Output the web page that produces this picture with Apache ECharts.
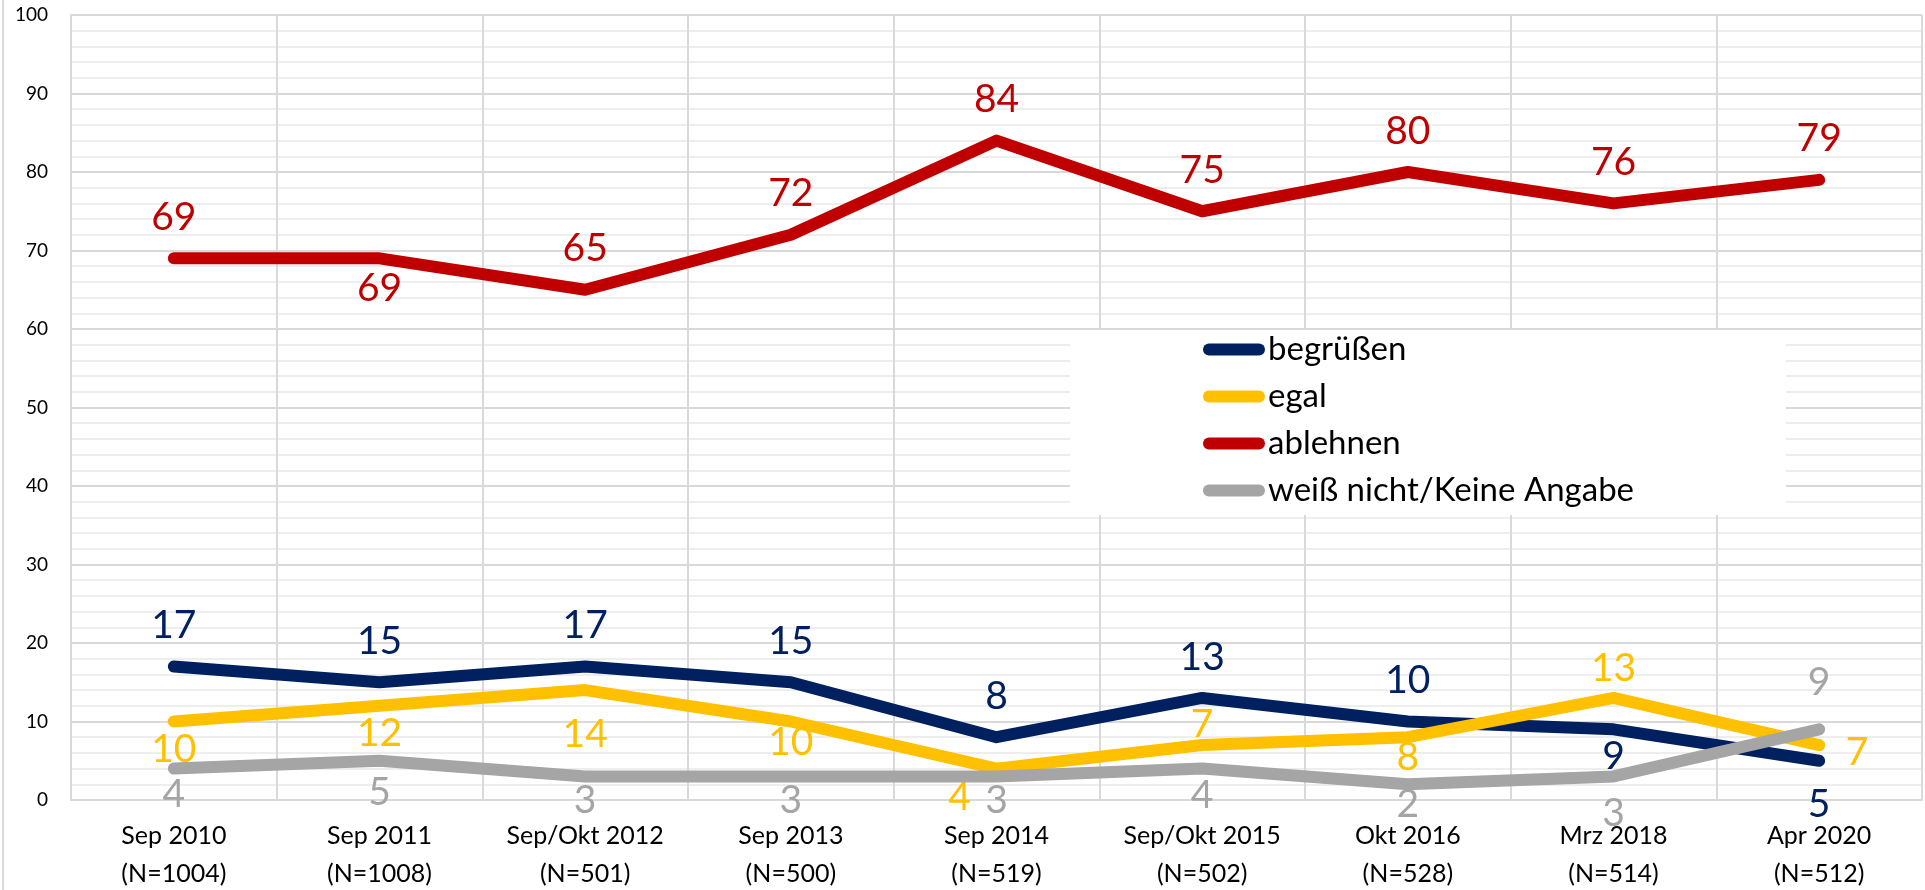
<!DOCTYPE html>
<html>
<head>
<meta charset="utf-8">
<script src="https://cdn.jsdelivr.net/npm/echarts@6/dist/echarts.min.js"></script>
<style>
  html, body { margin: 0; padding: 0; background: #fff; }
  #chart { width: 1925px; height: 890px; }
</style>
</head>
<body>
<div id="chart"></div>
<script>
// Zeitpunkte + Stichprobengröße (Achsenbeschriftung)
const periods = ['Sep 2010', 'Sep 2011', 'Sep/Okt 2012', 'Sep 2013', 'Sep 2014', 'Sep/Okt 2015', 'Okt 2016', 'Mrz 2018', 'Apr 2020']
const sampleSizes = [1004, 1008, 501, 500, 519, 502, 528, 514, 512]

const seriesNames = ['begrüßen', 'egal', 'ablehnen', 'weiß nicht/Keine Angabe']
const begruessen = [17, 15, 17, 15, 8, 13, 10, 9, 5]
const egal = [10, 12, 14, 10, 4, 7, 8, 13, 7]
const ablehnen = [69, 69, 65, 72, 84, 75, 80, 76, 79]
const weissNicht = [4, 5, 3, 3, 3, 4, 2, 3, 9]

const yTicks = [0, 100, 10]  // min, max, interval

const colors = ['#002060', '#FFC000', '#C00000', '#A5A5A5']

// Label-Platzierung je Punkt: [position, distance, dx, dy] (wie im Original verschoben)
const T = ['top', 21, 0, 0]
const labelLayouts = [
    [T, T, T, T, T, T, T, ['bottom', 7, 0, 0], ['bottom', 24, 0, 0]],
    [['bottom', 8, 0, 0], ['bottom', 8, 0, 0], ['bottom', 24, 0, 0], ['bottom', 1, 0, 0],
     ['bottom', 9, -37, 0], ['top', 1, 0, 0], ['bottom', 0, 0, 0], ['top', 10, 0, 0], ['right', 26, 0, 7]],
    [T, ['bottom', 10, 0, 0], T, T, T, T, T, T, T],
    [['bottom', 6, 0, 0], ['bottom', 12, 0, 0], ['bottom', 4, 0, 0], ['bottom', 4, 0, 0], ['bottom', 4, 0, 0],
     ['bottom', 7, 0, 0], ['bottom', 0, 0, 0], ['bottom', 17, 0, 0], ['top', 27, 0, 0]]
]

const FONT = 'Lato, "Open Sans", "DejaVu Sans", sans-serif'
const gridColor = '#d9d9d9'

const chart = echarts.init(document.getElementById('chart'))

const values = [begruessen, egal, ablehnen, weissNicht]

const series = values.map((vals, s) => ({
    name: seriesNames[s],
    type: 'line',
    symbol: 'circle',
    symbolSize: 1,
    itemStyle: { color: colors[s] },
    lineStyle: { color: colors[s], width: 12, cap: 'round', join: 'round' },
    emphasis: { disabled: true },
    z: 2 + s,
    data: vals.map((v, i) => {
        const [pos, dist, dx, dy] = labelLayouts[s][i]
        return {
            value: v,
            label: { show: true, position: pos, distance: dist, offset: [dx, dy] }
        }
    }),
    label: {
        show: true,
        color: colors[s],
        fontFamily: FONT,
        fontSize: 39
    }
}))

const option = {
    animation: false,
    backgroundColor: '#fff',
    color: colors,
    // feste Plotfläche, Achsenbeschriftung darf bis an den Rand gehen
    grid: { left: 71, right: 3, top: 15, bottom: 90, outerBoundsMode: 'none' },
    xAxis: {
        type: 'category',
        data: periods,
        boundaryGap: true,
        axisLine: { show: true, lineStyle: { color: gridColor, width: 2 } },
        axisTick: { show: false },
        splitLine: { show: true, lineStyle: { color: gridColor, width: 2 } },
        axisLabel: {
            color: '#000',
            fontFamily: FONT,
            fontSize: 25,
            lineHeight: 38,
            margin: 17,
            interval: 0,
            formatter: (v, i) => v + '\n(N=' + sampleSizes[i] + ')'
        }
    },
    yAxis: {
        type: 'value',
        min: yTicks[0],
        max: yTicks[1],
        interval: yTicks[2],
        axisLine: { show: true, lineStyle: { color: gridColor, width: 2 } },
        axisTick: { show: false },
        axisLabel: { color: '#000', fontFamily: FONT, fontSize: 19, margin: 23 },
        splitLine: { show: true, lineStyle: { color: gridColor, width: 2 } },
        minorTick: { show: false, splitNumber: 5 },
        minorSplitLine: { show: true, lineStyle: { color: '#eeeeee', width: 2 } }
    },
    legend: {
        orient: 'vertical',
        left: 1203,
        top: 333,
        z: 20,
        padding: 0,
        itemGap: 14,
        itemWidth: 62,
        itemHeight: 12,
        icon: 'path://M6,0 H56 A6,6 0 0 1 56,12 H6 A6,6 0 0 1 6,0 Z',
        data: seriesNames,
        textStyle: { color: '#000', fontFamily: FONT, fontSize: 33, padding: [0, 0, 0, -2] }
    },
    graphic: [
        // weißer Legendenkasten
        { type: 'rect', z: 10, shape: { x: 1070, y: 330, width: 716, height: 185 }, style: { fill: '#fff' } },
        // linker Rahmen des Diagrammbereichs
        { type: 'line', z: 10, shape: { x1: 3, y1: 0, x2: 3, y2: 890 }, style: { stroke: gridColor, lineWidth: 2 } }
    ],
    series: series
}

chart.setOption(option)
window.addEventListener('resize', () => chart.resize())
</script>
</body>
</html>
